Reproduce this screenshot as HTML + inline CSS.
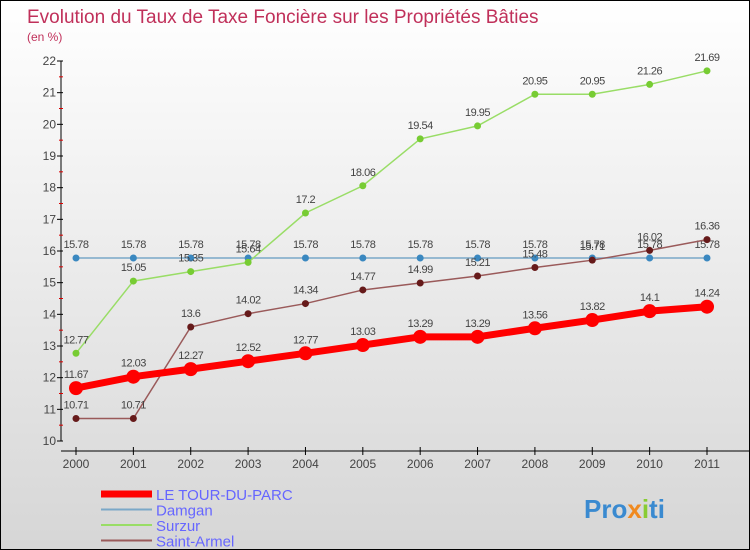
<!DOCTYPE html>
<html><head><meta charset="utf-8"><style>
body{margin:0}
#c{width:750px;height:550px;position:relative;overflow:hidden;box-sizing:border-box;border:1px solid #000;background:linear-gradient(#fff,#d6d6d6);font-family:"Liberation Sans",sans-serif}
svg{position:absolute;left:0;top:0}
</style></head><body>
<div id="c">
<svg id="s" width="750" height="550">
<text x="26" y="22" font-size="19" fill="#c0305a">Evolution du Taux de Taxe Foncière sur les Propriétés Bâties</text>
<text x="26" y="40" font-size="12" fill="#c0305a">(en %)</text>
</svg>
</div>
<script>
const years=[2000,2001,2002,2003,2004,2005,2006,2007,2008,2009,2010,2011];
const tourDuParc=[11.67,12.03,12.27,12.52,12.77,13.03,13.29,13.29,13.56,13.82,14.1,14.24];
const damgan=[15.78,15.78,15.78,15.78,15.78,15.78,15.78,15.78,15.78,15.78,15.78,15.78];
const surzur=[12.77,15.05,15.35,15.64,17.2,18.06,19.54,19.95,20.95,20.95,21.26,21.69];
const saintArmel=[10.71,10.71,13.6,14.02,14.34,14.77,14.99,15.21,15.48,15.71,16.02,16.36];
const yTicks=[10,11,12,13,14,15,16,17,18,19,20,21,22];
const seriesNames=["LE TOUR-DU-PARC","Damgan","Surzur","Saint-Armel"];
const NS="http://www.w3.org/2000/svg",s=document.getElementById('s');
const X=i=>75+i*(706-75)/(years.length-1);
const Y=v=>440-(v-10)*(380/12);
function el(t,a,p){const e=document.createElementNS(NS,t);for(const k in a)e.setAttribute(k,a[k]);(p||s).appendChild(e);return e;}
let ax=el('line',{x1:60,y1:60,x2:60,y2:440,stroke:'#000'});


yTicks.forEach(v=>{el('line',{x1:56,x2:62,y1:Y(v),y2:Y(v),stroke:'#000'});
if(v<22)el('line',{x1:58,x2:62,y1:Y(v+0.5),y2:Y(v+0.5),stroke:'#d00'});
const t=el('text',{x:55,y:Y(v)+4,'font-size':12,'text-anchor':'end',fill:'#444'});t.textContent=v;

});
let xa=el('line',{x1:60,y1:450,x2:750,y2:450,stroke:'#000'});


years.forEach((y,i)=>{el('line',{x1:X(i),x2:X(i),y1:446,y2:454,stroke:'#000'});
const t=el('text',{x:X(i),y:467,'font-size':12,'text-anchor':'middle',fill:'#444'});t.textContent=y;

});
function series(data,line,lw,dot,r,name){
const g=el('g',{});


el('polyline',{points:data.map((v,i)=>X(i)+','+Y(v)).join(' '),fill:'none',stroke:line,'stroke-width':lw},g);
data.forEach((v,i)=>{const c=el('circle',{cx:X(i),cy:Y(v),r:r,fill:dot},g);


const t=el('text',{x:X(i),y:Y(v)-10,'font-size':11,'text-anchor':'middle',fill:'#444','letter-spacing':'-0.5'},g);t.textContent=v;});}
series(damgan,'#7aa8c8',1.5,'#3a88c0',3.5,'series-damgan');
series(surzur,'#99dd66',1.5,'#77cc33',3.5,'series-surzur');
series(saintArmel,'#9a5a5a',1.5,'#661a1a',3.5,'series-saint-armel');
series(tourDuParc,'#ff0000',7,'#ff0000',7,'series-le-tour-du-parc');
const lc=['#ff0000','#7aa8c8','#99dd66','#9a5a5a'],lw=[7,2,2,2];
seriesNames.forEach((n,i)=>{const g=el('g',{});


const yy=493+i*15.5;
el('line',{x1:100,x2:151,y1:yy,y2:yy,stroke:lc[i],'stroke-width':lw[i]},g);
const t=el('text',{x:155,y:yy+6,'font-size':15,fill:'#6666ff'},g);t.textContent=n;});
const p=el('text',{x:583,y:517,'font-size':26,'font-weight':'bold',fill:'#3a8ad0'});


p.innerHTML='Pro<tspan fill="#f08a20">x</tspan><tspan fill="#88cc33">i</tspan>ti';
</script>
</body></html>
